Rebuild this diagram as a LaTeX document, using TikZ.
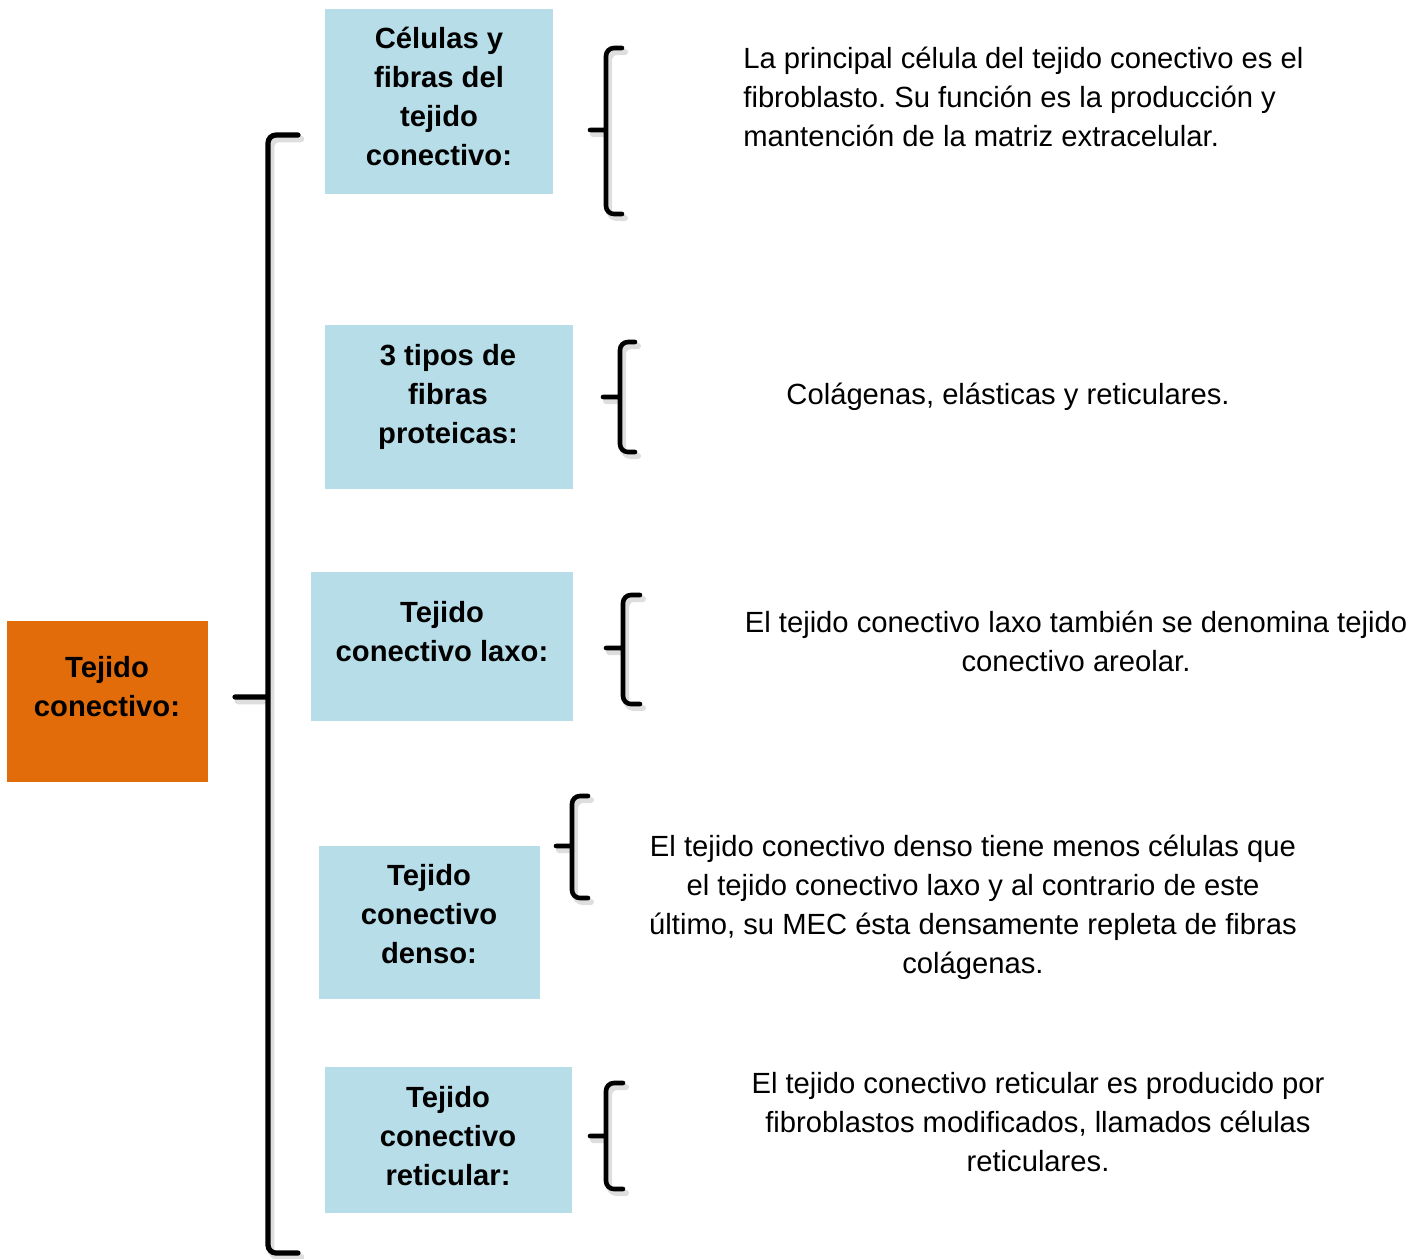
\documentclass[tikz,border=0pt]{standalone}
\usepackage{fontspec}
\setmainfont{Liberation Sans}
\frenchspacing
\definecolor{naranja}{HTML}{E36C0A}
\definecolor{celeste}{HTML}{B7DEE8}
\begin{document}
\begin{tikzpicture}[x=0.5pt,y=-0.5pt]
  \tikzstyle{every node}=[font=\fontsize{14.6}{19.5}\selectfont,align=center,inner sep=0pt]
  \tikzstyle{titulo}=[font=\fontsize{14.6}{19.5}\selectfont\bfseries]
  \tikzstyle{llave}=[line width=2.3pt,rounded corners=4pt,line cap=round]
  \tikzstyle{sombra}=[draw=black!13,line width=3pt,shift={(3,4)}]
  \useasboundingbox (0,0) rectangle (1423,1258);
  % cajas
  \fill[naranja] (7,621) rectangle (208,782);
  \fill[celeste] (325,9) rectangle (553,194);
  \fill[celeste] (325,325) rectangle (573,489);
  \fill[celeste] (311,572) rectangle (573,721);
  \fill[celeste] (319,846) rectangle (540,999);
  \fill[celeste] (325,1067) rectangle (572,1213);
  \node[titulo] (raiz) at (107,687) {Tejido\\conectivo:};
  \node[titulo] (celulas) at (439,96) {Células y\\fibras del\\tejido\\conectivo:};
  \node[titulo] (tipos) at (448,397) {3 tipos de\\fibras\\proteicas:};
  \node[titulo] (laxo) at (442,632) {Tejido\\conectivo laxo:};
  \node[titulo] (denso) at (429,914) {Tejido\\conectivo\\denso:};
  \node[titulo] (reticular) at (448,1136) {Tejido\\conectivo\\reticular:};
  % llave grande
  \draw[llave,sombra,line width=3.3pt] (298,135) -- (268,135) -- (268,1253) -- (298,1253) (268,697) -- (235,697);
  \draw[llave,line width=2.6pt] (298,135) -- (268,135) -- (268,1253) -- (298,1253) (268,697) -- (235,697);
  % llaves chicas
  \foreach \x/\yt/\yb/\ym/\h/\t in {606/48/214/130/622/590,620/342/452/397/635/603,623/595/704/648/640/606,572/796/898/846/588/556,606/1083/1189/1136/623/590}{
    \draw[llave,sombra] (\h,\yt) -- (\x,\yt) -- (\x,\yb) -- (\h,\yb) (\x,\ym) -- (\t,\ym);
    \draw[llave] (\h,\yt) -- (\x,\yt) -- (\x,\yb) -- (\h,\yb) (\x,\ym) -- (\t,\ym);
  }
  % textos
  \node[anchor=west,align=left] (celulas-d) at (743,97) {La principal célula del tejido conectivo es el\\fibroblasto. Su función es la producción y\\mantención de la matriz extracelular.};
  \node (tipos-d) at (1008,397) {Colágenas, elásticas y reticulares.};
  \node (laxo-d) at (1076,641) {El tejido conectivo laxo también se denomina tejido\\conectivo areolar.};
  \node (denso-d) at (973,907) {El tejido conectivo denso tiene menos células que\\el tejido conectivo laxo y al contrario de este\\último, su MEC ésta densamente repleta de fibras\\colágenas.};
  \node (reticular-d) at (1038,1122) {El tejido conectivo reticular es producido por\\fibroblastos modificados, llamados células\\reticulares.};
\end{tikzpicture}
\end{document}
